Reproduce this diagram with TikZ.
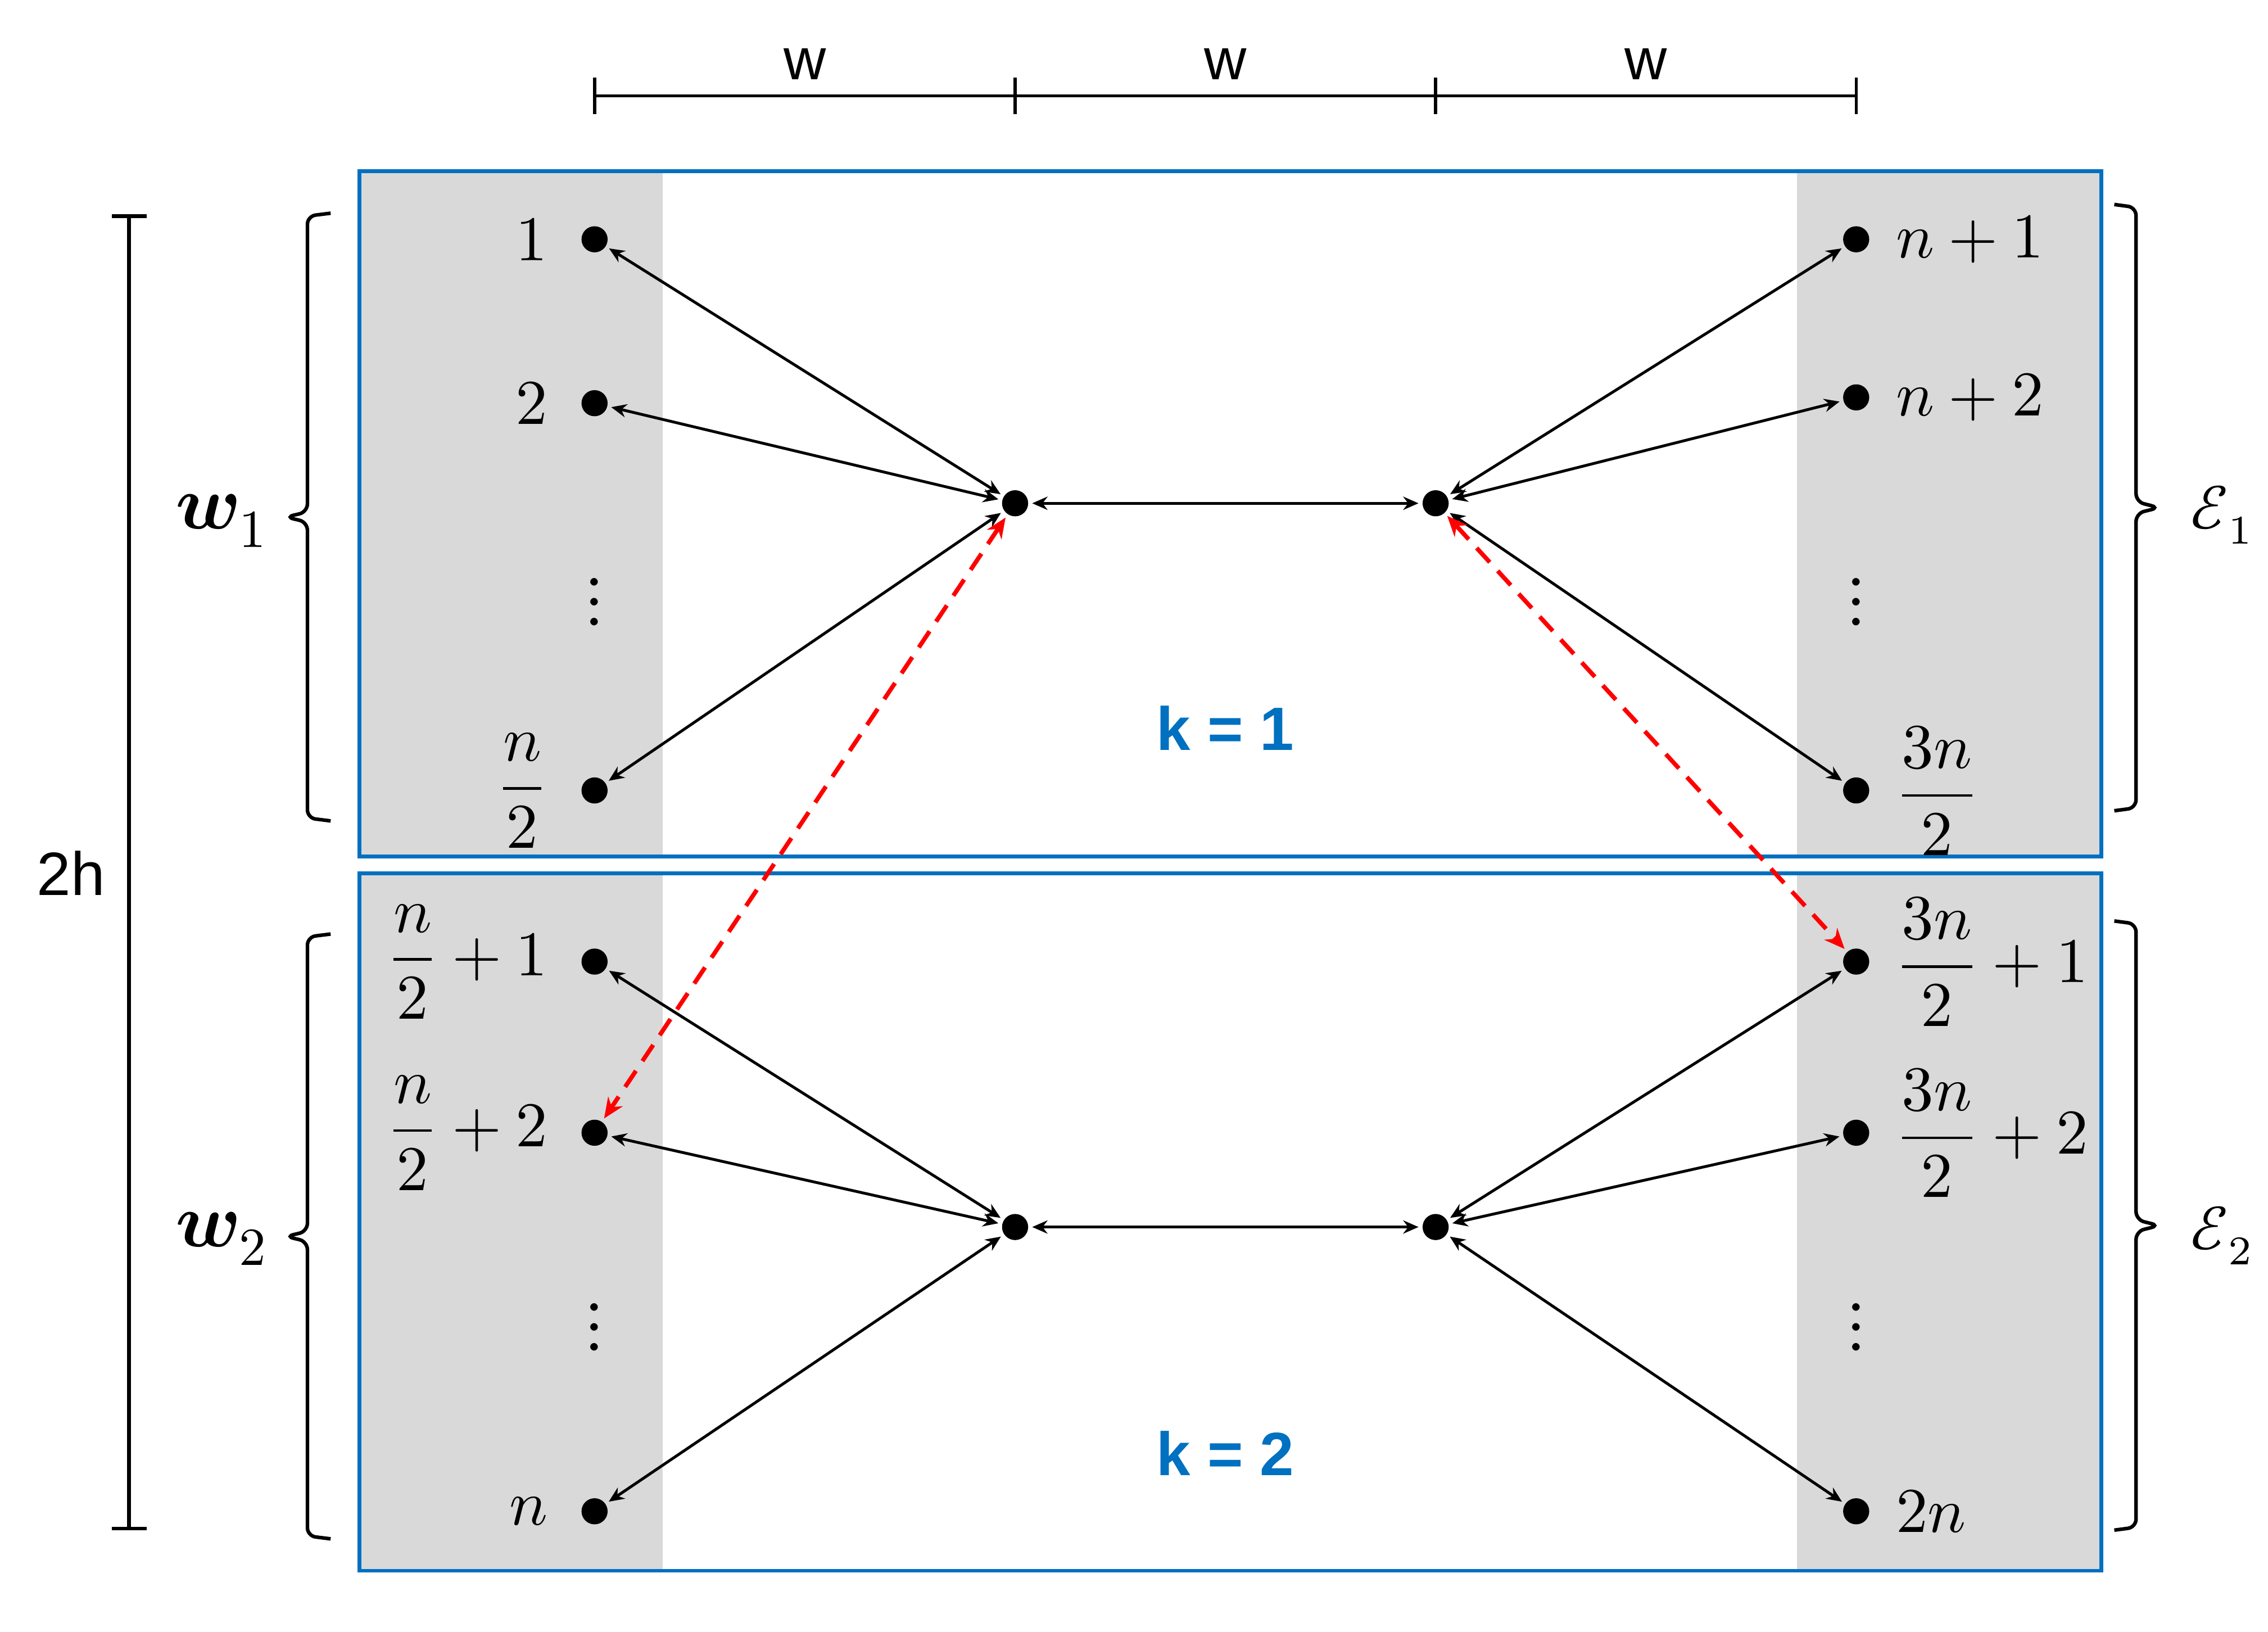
\documentclass[tikz,border=0pt]{standalone}
\usepackage{amsmath}
\usepackage{fontspec}
\usepackage{unicode-math}
\setmathfont{Latin Modern Math}
\newfontfamily\arialfont{Liberation Sans}
\usetikzlibrary{arrows.meta,positioning,calc}

\definecolor{boxblue}{RGB}{0,112,192}
\definecolor{bandgray}{RGB}{217,217,217}

\begin{document}
\begin{tikzpicture}[
    dot/.style={circle,fill=black,inner sep=0pt,minimum size=0.18cm},
    vdot/.style={inner sep=0pt,font=\fontsize{14}{16}\selectfont},
    link/.style={{Stealth[length=3pt,width=2.6pt]}-{Stealth[length=3pt,width=2.6pt]},line width=0.55pt,shorten <=0.6pt,shorten >=0.6pt},
    swap/.style={{Stealth[length=4pt,width=3.4pt]}-{Stealth[length=4pt,width=3.4pt]},red,line width=0.85pt,dash pattern=on 3.8pt off 2.3pt,shorten <=0.6pt,shorten >=0.6pt},
    lab/.style={inner sep=0pt,font=\fontsize{12.5}{15}\selectfont},
    sans/.style={inner sep=0pt,font=\arialfont\fontsize{11.5}{14}\selectfont},
    klab/.style={inner sep=0pt,text=boxblue,font=\arialfont\bfseries\fontsize{12}{14}\selectfont},
    blk/.style={draw=boxblue,line width=0.75pt},
    bracket/.style={line width=0.7pt,rounded corners=1.6pt},
  ]
  \useasboundingbox (0,0) rectangle (15.64,11.25);

  % grey bands and the two blocks
  \fill[bandgray] (2.48,5.345) rectangle (4.57,10.07);
  \fill[bandgray] (12.39,5.345) rectangle (14.49,10.07);
  \fill[bandgray] (2.48,0.42) rectangle (4.57,5.23);
  \fill[bandgray] (12.39,0.42) rectangle (14.49,5.23);
  \draw[blk] (2.48,5.345) rectangle (14.49,10.07);
  \draw[blk] (2.48,0.42) rectangle (14.49,5.23);

  % width scale on top
  \coordinate (T0) at (4.10,10.59);
  \coordinate (T1) at (7.00,10.59);
  \coordinate (T2) at (9.90,10.59);
  \coordinate (T3) at (12.80,10.59);
  \draw[line width=0.6pt] (T0) -- (T3);
  \foreach \t in {T0,T1,T2,T3}
    \draw[line width=0.6pt] ($(\t)+(0,0.125)$) -- ($(\t)+(0,-0.125)$);
  \path (T0) -- (T1) node[midway,above=3pt,sans] {w};
  \path (T1) -- (T2) node[midway,above=3pt,sans] {w};
  \path (T2) -- (T3) node[midway,above=3pt,sans] {w};

  % height scale on the left
  \coordinate (H0) at (0.89,9.76);
  \coordinate (H1) at (0.89,0.71);
  \draw[line width=0.7pt] (H0) -- (H1);
  \draw[line width=0.7pt] ($(H0)+(-0.12,0)$) -- ($(H0)+(0.12,0)$);
  \draw[line width=0.7pt] ($(H1)+(-0.12,0)$) -- ($(H1)+(0.12,0)$);
  \node[sans,font=\arialfont\fontsize{12}{14}\selectfont] (twoh) at (0.49,5.23) {2h};

  % block k = 1
  \node[dot] (L1) at (4.10,9.60) {};
  \node[dot] (L2) at (4.10,8.47) {};
  \node[vdot] (Ld) at (4.10,7.10) {$⋮$};
  \node[dot] (Ln) at (4.10,5.80) {};
  \node[dot] (C1) at (7.00,7.78) {};
  \node[dot] (D1) at (9.90,7.78) {};
  \node[dot] (R1) at (12.80,9.60) {};
  \node[dot] (R2) at (12.80,8.51) {};
  \node[vdot] (Rd) at (12.80,7.10) {$⋮$};
  \node[dot] (Rn) at (12.80,5.80) {};
  \node[lab,left=0.22cm of L1] {$1$};
  \node[lab,left=0.22cm of L2] {$2$};
  \node[lab,left=0.22cm of Ln] {$\dfrac{n}{2}$};
  \node[lab,right=0.17cm of R1] {$n+1$};
  \node[lab,right=0.17cm of R2] {$n+2$};
  \node[lab,right=0.17cm of Rn] {$\dfrac{3n}{2}$};
  \foreach \a in {L1,L2,Ln}
    \draw[link] (\a) -- (C1);
  \foreach \a in {R1,R2,Rn}
    \draw[link] (D1) -- (\a);
  \draw[link] (C1) -- (D1);
  \node[klab] (k1) at (8.45,6.23) {k = 1};

  % block k = 2
  \node[dot] (L3) at (4.10,4.62) {};
  \node[dot] (L4) at (4.10,3.44) {};
  \node[vdot] (Ld2) at (4.10,2.10) {$⋮$};
  \node[dot] (L5) at (4.10,0.83) {};
  \node[dot] (C2) at (7.00,2.79) {};
  \node[dot] (D2) at (9.90,2.79) {};
  \node[dot] (R3) at (12.80,4.62) {};
  \node[dot] (R4) at (12.80,3.44) {};
  \node[vdot] (Rd2) at (12.80,2.10) {$⋮$};
  \node[dot] (R5) at (12.80,0.83) {};
  \node[lab,left=0.22cm of L3] {$\dfrac{n}{2}+1$};
  \node[lab,left=0.22cm of L4] {$\dfrac{n}{2}+2$};
  \node[lab,left=0.22cm of L5] {$n$};
  \node[lab,right=0.17cm of R3] {$\dfrac{3n}{2}+1$};
  \node[lab,right=0.17cm of R4] {$\dfrac{3n}{2}+2$};
  \node[lab,right=0.17cm of R5] {$2n$};
  \foreach \a in {L3,L4,L5}
    \draw[link] (\a) -- (C2);
  \foreach \a in {R3,R4,R5}
    \draw[link] (D2) -- (\a);
  \draw[link] (C2) -- (D2);
  \node[klab] (k2) at (8.45,1.23) {k = 2};

  % exchange between the blocks
  \draw[swap] (C1) -- (L4);
  \draw[swap] (D1) -- (R3);

  % braces
  \draw[bracket] (2.28,9.78) -- (2.12,9.76) -- (2.12,7.72) -- (1.97,7.685) -- (2.12,7.65) -- (2.12,5.61) -- (2.28,5.59);
  \draw[bracket] (2.28,4.81) -- (2.12,4.79) -- (2.12,2.76) -- (1.97,2.725) -- (2.12,2.69) -- (2.12,0.66) -- (2.28,0.64);
  \draw[bracket] (14.58,9.84) -- (14.73,9.82) -- (14.73,7.79) -- (14.89,7.75) -- (14.73,7.71) -- (14.73,5.68) -- (14.58,5.66);
  \draw[bracket] (14.58,4.90) -- (14.73,4.88) -- (14.73,2.84) -- (14.89,2.80) -- (14.73,2.76) -- (14.73,0.72) -- (14.58,0.70);
  \node[inner sep=0pt,anchor=east,font=\fontsize{15}{18}\selectfont] (w1) at (1.86,7.66) {$\mathbfit{w}_{1}$};
  \node[inner sep=0pt,anchor=east,font=\fontsize{15}{18}\selectfont] (w2) at (1.86,2.71) {$\mathbfit{w}_{2}$};
  \node[inner sep=0pt,anchor=west,font=\fontsize{12}{15}\selectfont] (e1) at (15.10,7.70) {$\mathscr{E}_{1}$};
  \node[inner sep=0pt,anchor=west,font=\fontsize{12}{15}\selectfont] (e2) at (15.10,2.73) {$\mathscr{E}_{2}$};
\end{tikzpicture}
\end{document}
